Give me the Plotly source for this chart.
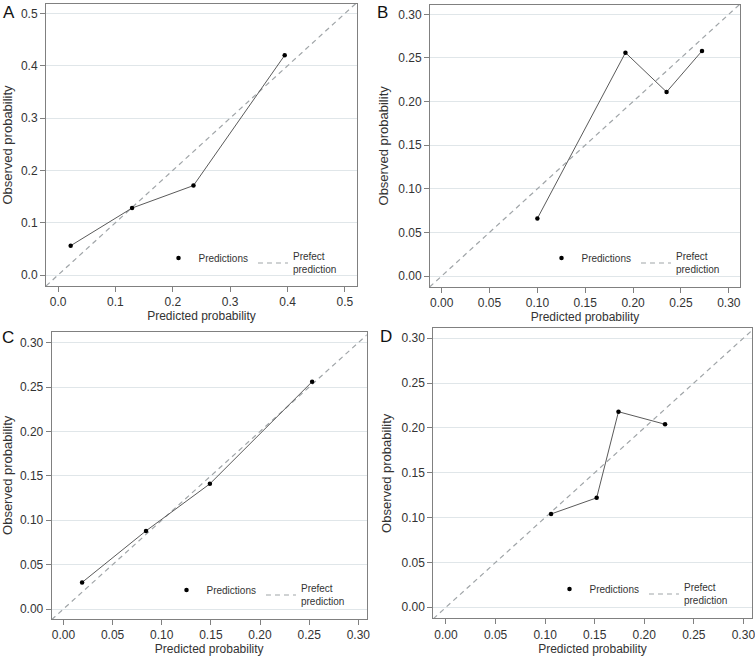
import plotly.graph_objects as go

# ---- data ----
A_pred = [0.022, 0.129, 0.236, 0.395]
A_obs = [0.056, 0.128, 0.171, 0.420]
B_pred = [0.100, 0.192, 0.235, 0.272]
B_obs = [0.066, 0.256, 0.211, 0.258]
C_pred = [0.019, 0.084, 0.149, 0.253]
C_obs = [0.030, 0.088, 0.141, 0.256]
D_pred = [0.106, 0.152, 0.174, 0.221]
D_obs = [0.104, 0.122, 0.218, 0.204]

A_ticks = [0.0, 0.1, 0.2, 0.3, 0.4, 0.5]
BCD_ticks = [0.00, 0.05, 0.10, 0.15, 0.20, 0.25, 0.30]

panel_labels = ["A", "B", "C", "D"]

W, H = 755, 656
FONT = "Liberation Sans, Arial, sans-serif"

# layout geometry (pixels): frame x0, x1, y0(top), y1(bottom)
frames = [(46, 357, 4, 286), (430, 740, 4.7, 287), (51.7, 366.7, 331.7, 619), (433.3, 751.7, 328.3, 618.3)]
xranges = [(-0.021, 0.521), (-0.0122, 0.3117), (-0.0119, 0.3085), (-0.0128, 0.3084)]
yranges = [(-0.021, 0.518), (-0.0126, 0.311), (-0.0112, 0.3123), (-0.0123, 0.311)]
legend_pos = [(250, 263), (633, 263), (258, 595), (641, 594)]
letter_pos = [(9, 13), (383, 12), (8, 337), (386, 336)]

series = [(A_pred, A_obs, A_ticks, ".1f"), (B_pred, B_obs, BCD_ticks, ".2f"),
          (C_pred, C_obs, BCD_ticks, ".2f"), (D_pred, D_obs, BCD_ticks, ".2f")]

fig = go.Figure()
layout = dict(width=W, height=H, margin=dict(l=0, r=0, t=0, b=0),
              paper_bgcolor="white", plot_bgcolor="white", template="none",
              font=dict(family=FONT, size=12, color="#333"), annotations=[])

for i, ((pred, obs, ticks, fmt), fr, xr, yr, lp, lbl, ltp) in enumerate(
        zip(series, frames, xranges, yranges, legend_pos, panel_labels, letter_pos)):
    n = "" if i == 0 else str(i + 1)
    xa, ya = "x" + n, "y" + n
    leg = "legend" + n
    # perfect prediction diagonal across axis range
    diag = [min(xr[0], yr[0]), max(xr[1], yr[1])]
    fig.add_trace(go.Scatter(x=diag, y=diag, mode="lines", name="Prefect<br>prediction",
                             line=dict(color="#a0a5a8", width=1.2, dash="5px,4px"),
                             xaxis=xa, yaxis=ya, legend=leg, legendrank=2))
    fig.add_trace(go.Scatter(x=pred, y=obs, mode="lines", showlegend=False,
                             line=dict(color="#5a5a5a", width=1), xaxis=xa, yaxis=ya))
    fig.add_trace(go.Scatter(x=pred, y=obs, mode="markers", name="Predictions",
                             marker=dict(color="black", size=4.5),
                             xaxis=xa, yaxis=ya, legend=leg, legendrank=1))
    x0, x1, y0, y1 = fr
    axcommon = dict(showline=True, mirror=True, linecolor="#808080", linewidth=1,
                    ticks="outside", ticklen=5, tickcolor="#808080", zeroline=False,
                    tickvals=ticks, tickformat=fmt, automargin=False,
                    ticklabeloverflow="allow",
                    tickfont=dict(size=12, color="#333", family=FONT))
    layout["xaxis" + n] = dict(axcommon, domain=[x0 / W, x1 / W], range=list(xr), showgrid=False,
                               anchor=ya, title=dict(text="Predicted probability", standoff=0,
                                                     font=dict(size=12, color="#333")))
    layout["yaxis" + n] = dict(axcommon, domain=[1 - y1 / H, 1 - y0 / H], range=list(yr),
                               showgrid=True, gridcolor="#e0e6e9", gridwidth=1, anchor=xa,
                               title=dict(text="Observed probability", standoff=6,
                                          font=dict(size=13, color="#333")))
    layout[leg] = dict(orientation="h", x=lp[0] / W, y=1 - lp[1] / H, xanchor="center",
                       yanchor="middle", font=dict(size=10, color="#333", family=FONT),
                       bgcolor="rgba(0,0,0,0)", valign="middle", itemwidth=30,
                       traceorder="normal")
    layout["annotations"].append(dict(text=lbl, x=ltp[0] / W, y=1 - ltp[1] / H, xref="paper",
                                      yref="paper", showarrow=False, xanchor="center",
                                      yanchor="middle", font=dict(size=17, color="#111", family=FONT)))

fig.update_layout(**layout)
fig.write_html("out.html", config={"displayModeBar": False},
               post_script="document.body.style.margin='0px';")
